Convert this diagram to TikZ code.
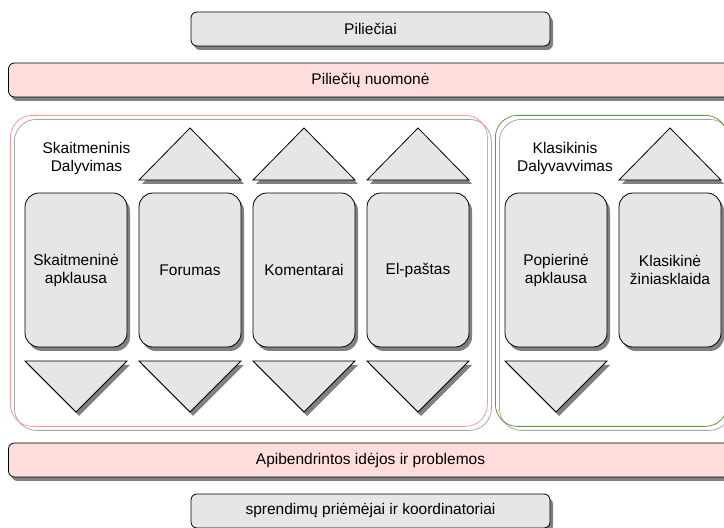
\documentclass[tikz,border=0pt]{standalone}
\usepackage{fontspec}
\setmainfont{Liberation Sans}
\usetikzlibrary{positioning,shadows}

\definecolor{boxgray}{HTML}{E6E6E6}
\definecolor{barpink}{HTML}{FFDDDD}
\definecolor{linepink}{HTML}{FF9999}
\definecolor{linegreen}{HTML}{669933}

\begin{document}
\begin{tikzpicture}[
  x=1pt, y=1pt,
  font=\fontsize{15.5}{18}\selectfont,
  shade/.style={drop shadow={shadow xshift=3pt, shadow yshift=-4pt, fill=black!50, opacity=1}},
  bar/.style={rectangle, draw, line width=0.8pt, rounded corners=6pt, minimum height=34pt, outer sep=0pt, shade},
  graybar/.style={bar, fill=boxgray, minimum width=359pt},
  pinkbar/.style={bar, fill=barpink, minimum width=724pt},
  column/.style={rectangle, draw, line width=0.8pt, rounded corners=14pt, fill=boxgray, minimum width=102pt, minimum height=154pt, outer sep=0pt, align=center, shade},
  tri/.style={draw, line width=0.8pt, fill=boxgray, shade},
  group/.style={rectangle, draw, line width=0.8pt, rounded corners=22pt, anchor=north west, minimum height=311pt,
    drop shadow={shadow xshift=4pt, shadow yshift=-4pt, draw=black!35, fill=none, opacity=1}},
  grouplabel/.style={align=center}
]
\useasboundingbox (0,0) rectangle (724,528);

% Juostos
\node[graybar] (pilieciai) at (370.5,499) {Piliečiai};
\node[pinkbar, below=17pt of pilieciai] (nuomone) {Piliečių nuomonė};
\node[pinkbar] (idejos) at (370.5,68) {Apibendrintos idėjos ir problemos};
\node[graybar, below=17pt of idejos] (sprendimai) {sprendimų priėmėjai ir koordinatoriai};

% Grupes
\node[group, draw=linepink, minimum width=477pt] (skaitgr) at (10,413) {};
\node[group, draw=linegreen, minimum width=232pt] (klasgr) at (495,413) {};
\node[grouplabel] (skaitlbl) at (86.5,370) {Skaitmeninis\\Dalyvimas};
\node[grouplabel] (klaslbl) at (565,370) {Klasikinis\\Dalyvavvimas};

% Kanalai
\node[column] (skaitap) at (76,258) {Skaitmeninė\\apklausa};
\node[column, right=12pt of skaitap] (forumas) {Forumas};
\node[column, right=12pt of forumas] (komentarai) {Komentarai};
\node[column, right=12pt of komentarai] (elpastas) {El-paštas};
\node[column, right=36pt of elpastas] (popierine) {Popierinė\\apklausa};
\node[column, right=12pt of popierine] (klasikine) {Klasikinė\\žiniasklaida};

% Trikampiai
\foreach \c in {forumas, komentarai, elpastas, klasikine}
  \draw[tri] ([yshift=13pt]\c.north west) -- ([yshift=13pt]\c.north east) -- ([yshift=65pt]\c.north) -- cycle;
\foreach \c in {skaitap, forumas, komentarai, elpastas, popierine}
  \draw[tri] ([yshift=-14pt]\c.south west) -- ([yshift=-14pt]\c.south east) -- ([yshift=-65pt]\c.south) -- cycle;

\end{tikzpicture}
\end{document}
